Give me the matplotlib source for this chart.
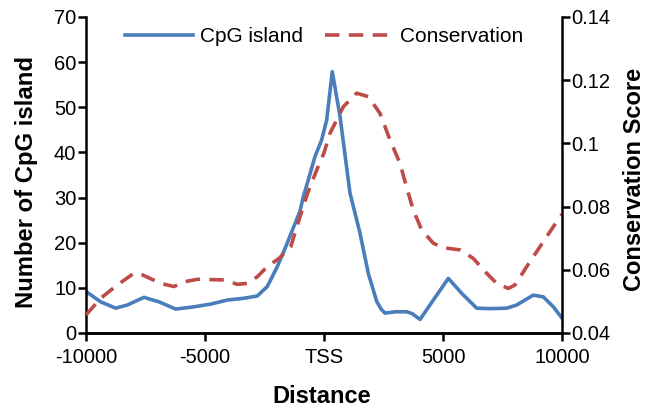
import matplotlib
matplotlib.use("Agg")
import matplotlib.pyplot as plt
from matplotlib.lines import Line2D

plt.rcParams['font.family'] = ['Liberation Sans', 'DejaVu Sans']

# CpG island counts (left axis)
cpg_x = [-10000, -9382, -8752, -8264, -7563, -6933, -6232, -5462, -4760, -4063,
         -3361, -2803, -2382, -1962, -1609, -1008, -870, -660, -378, -97,
         113, 348, 672, 1092, 1513, 1862, 2214, 2400, 2563, 3000,
         3475, 3700, 4034, 4594, 5224, 5785, 6415, 7000, 7676, 8096,
         8796, 9216, 9636, 10000]
cpg_y = [9.2, 6.9, 5.5, 6.2, 7.9, 6.9, 5.3, 5.8, 6.4, 7.3,
         7.7, 8.2, 10.3, 14.7, 19.1, 27.0, 30.2, 33.9, 39.1, 42.8,
         47.2, 57.9, 48.0, 31.0, 22.1, 13.2, 7.0, 5.3, 4.4, 4.7,
         4.7, 4.3, 3.0, 7.3, 12.1, 8.8, 5.5, 5.4, 5.5, 6.2,
         8.4, 8.0, 5.8, 3.3]

# Conservation score (right axis)
cons_x = [-10000, -9382, -8685, -7983, -7634, -6861, -6303, -5882, -5323, -4202,
          -3643, -3223, -2803, -2382, -1891, -1399, -1000, -700, -307, 0,
          252, 812, 1373, 1862, 2353, 2773, 3193, 3475, 3753, 4104,
          4594, 5014, 5714, 6274, 6835, 7256, 7744, 8025, 8517, 9216,
          9916, 10000]
cons_y = [0.0457, 0.0510, 0.0552, 0.0589, 0.0584, 0.0557, 0.0547, 0.0562, 0.0570, 0.0568,
          0.0554, 0.0557, 0.0578, 0.0610, 0.0636, 0.0673, 0.077, 0.084, 0.0916, 0.097,
          0.1032, 0.1116, 0.1159, 0.1148, 0.1095, 0.1011, 0.0937, 0.0860, 0.0789, 0.0726,
          0.0684, 0.0670, 0.0663, 0.0636, 0.0589, 0.0557, 0.0541, 0.0552, 0.0610, 0.0689,
          0.0768, 0.0775]

xticks = [-10000, -5000, 0, 5000, 10000]
xticklabels = ['-10000', '-5000', 'TSS', '5000', '10000']
left_ticks = [0, 10, 20, 30, 40, 50, 60, 70]
right_ticks = [0.04, 0.06, 0.08, 0.1, 0.12, 0.14]
right_labels = ['0.04', '0.06', '0.08', '0.1', '0.12', '0.14']

blue = '#4A7EBB'
red = '#BE4B48'

fig = plt.figure(figsize=(6.53, 4.08), dpi=100)
ax = fig.add_axes([86/653, 75/408, 476/653, 316/408])
ax2 = ax.twinx()

ax.plot(cpg_x, cpg_y, color=blue, lw=2.6, solid_joinstyle='round')
ax2.plot(cons_x, cons_y, color=red, lw=2.6, dashes=(4, 2.6))

ax.set_xlim(-10000, 10000)
ax.set_ylim(0, 70)
ax2.set_ylim(0.04, 0.14)

ax.set_xticks(xticks)
ax.set_xticklabels(xticklabels)
ax.set_yticks(left_ticks)
ax2.set_yticks(right_ticks)
ax2.set_yticklabels(right_labels)

for a in (ax, ax2):
    a.spines['top'].set_visible(False)
    for s in a.spines.values():
        s.set_linewidth(1.8)
    a.tick_params(width=1.8, length=6, labelsize=14.5, pad=1, colors='black')
ax.tick_params(axis='x', pad=5)
ax2.spines['left'].set_visible(False)
ax.spines['right'].set_visible(False)

ax.set_xlabel('Distance', fontsize=17, fontweight='bold')
ax.set_ylabel('Number of CpG island', fontsize=17.2, fontweight='bold')
ax2.set_ylabel('Conservation Score', fontsize=17, fontweight='bold')
ax.xaxis.set_label_coords(0.496, -0.165)
ax.yaxis.set_label_coords(-0.100, 0.478)
ax2.yaxis.set_label_coords(1.128, 0.487)

handles = [Line2D([], [], color=blue, lw=2.6),
           Line2D([], [], color=red, lw=2.6, dashes=(4, 2.6))]
ax2.legend(handles, ['CpG island', 'Conservation'], loc='center',
           bbox_to_anchor=(0.5, 0.937), ncol=2, frameon=False, fontsize=15,
           handlelength=3.25, handletextpad=0.35, columnspacing=1.05)

fig.savefig('out.png', dpi=100)
